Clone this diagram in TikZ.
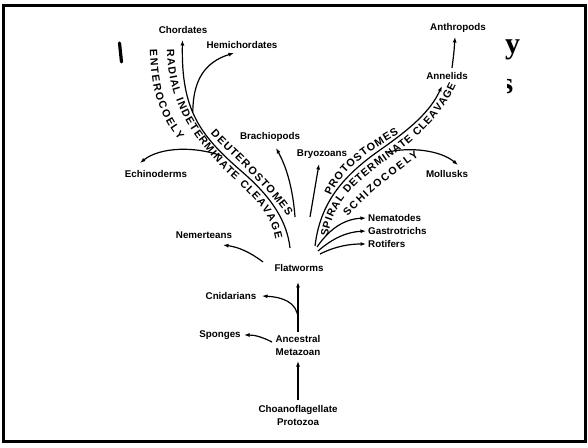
\documentclass[tikz,border=0pt]{standalone}
\usepackage{fontspec}
\setmainfont{Liberation Sans}
\newfontfamily\titleserif{Liberation Serif}
\usetikzlibrary{arrows.meta,decorations.text}
\newcommand\lblfont{\bfseries\fontsize{9.8}{13}\selectfont}
\newcommand\capfont{\bfseries\fontsize{10.6}{12}\selectfont}
\newcommand\capbold{\bfseries\fontsize{10.8}{12}\selectfont}
\begin{document}
\begin{tikzpicture}[x=1pt,y=1pt,
  lbl/.style={font=\lblfont, inner sep=1pt},
  br/.style={line width=1.2pt, -{Latex[length=5.5pt,width=4pt]}},
  alongtext/.style={decorate, decoration={text along path, text align={fit to path}, text format delimiters={|}{|}}}
]
\useasboundingbox (0,0) rectangle (588,447);
\draw[line width=3pt] (3.5,5.5) rectangle (585.5,441.5);

% fragments of the slide title behind the picture
\draw[line width=3.2pt, line cap=round] (119.5,404) -- (121.5,385);
\node[font={\titleserif\bfseries\fontsize{30}{36}\selectfont}, anchor=base west, inner sep=0pt] (ty) at (505,393) {y};
\begin{scope}
  \clip (507,340) rectangle (530,375);
  \node[font={\titleserif\bfseries\fontsize{30}{36}\selectfont}, anchor=base west, inner sep=0pt] (ts) at (501.5,353) {s};
\end{scope}

% labels
\node[lbl] (chord) at (183,417) {Chordates};
\node[lbl] (hemi) at (242,402) {Hemichordates};
\node[lbl] (echi) at (156,273) {Echinoderms};
\node[lbl] (brach) at (270,310) {Brachiopods};
\node[lbl] (bryo) at (322,293) {Bryozoans};
\node[lbl] (anth) at (458,419) {Anthropods};
\node[lbl] (anne) at (447,371) {Annelids};
\node[lbl] (moll) at (447,273) {Mollusks};
\node[lbl, anchor=west] (nema) at (367,229) {Nematodes};
\node[lbl, anchor=west] (gast) at (367,216) {Gastrotrichs};
\node[lbl, anchor=west] (roti) at (367,203) {Rotifers};
\node[lbl] (nemer) at (204,212) {Nemerteans};
\node[lbl] (flat) at (299,179) {Flatworms};
\node[lbl] (cnid) at (231,151) {Cnidarians};
\node[lbl] (spon) at (220,112) {Sponges};
\node[lbl, align=center] (anc) at (298,102) {Ancestral\\Metazoan};
\node[lbl, align=center] (choano) at (298,32) {Choanoflagellate\\Protozoa};

% connector end points
\coordinate (choanoT) at (298,47);
\coordinate (ancB) at (298,86);
\coordinate (ancT) at (298,115);
\coordinate (flatB) at (298,165);
\coordinate (cnidS) at (298,129);
\coordinate (cnidE) at (262,151);
\coordinate (sponS) at (272,105);
\coordinate (sponE) at (244,112);
\coordinate (nemS) at (263,185);
\coordinate (nemE) at (223,202);
\coordinate (deutS) at (290,199);
\coordinate (deutM) at (240,277);
\coordinate (chordE) at (182.5,407);
\coordinate (hemiS) at (192.8,335);
\coordinate (hemiE) at (234,394);
\coordinate (echiS) at (222,291);
\coordinate (echiE) at (140,284);
\coordinate (brachS) at (295,230);
\coordinate (brachE) at (276,299);
\coordinate (bryoS) at (310,230);
\coordinate (bryoE) at (319,283);
\coordinate (protS) at (315,201);
\coordinate (protM) at (380,297);
\coordinate (anneE) at (442,361);
\coordinate (anneS) at (452,379);
\coordinate (anthE) at (455,410);
\coordinate (mollS) at (388,295);
\coordinate (mollE) at (458,282);
\coordinate (nemaS) at (317,200);
\coordinate (nemaE) at (366,229);
\coordinate (gastS) at (318,196);
\coordinate (gastE) at (366,216);
\coordinate (rotiS) at (320,193);
\coordinate (rotiE) at (366,203);

% connectors
\draw[br] (choanoT) -- (ancB);
\draw[br] (ancT) -- (flatB);
\draw[br] (cnidS) .. controls (297,145) and (282,150) .. (cnidE);
\draw[br] (sponS) .. controls (262,110) and (255,112) .. (sponE);
\draw[br] (nemS) .. controls (250,195) and (238,200) .. (nemE);
\draw[br] (deutS) .. controls (287,225) and (273,249) .. (deutM) .. controls (200,312) and (181,337) .. (chordE);
\draw[br] (hemiS) .. controls (193,367) and (205,385) .. (hemiE);
\draw[br] (echiS) .. controls (195,301) and (160,300) .. (echiE);
\draw[br] (brachS) .. controls (293,257) and (287,279) .. (brachE);
\draw[br] (bryoS) -- (bryoE);
\draw[br] (protS) .. controls (320,242) and (340,269) .. (protM) .. controls (410,318) and (430,335) .. (anneE);
\draw[br] (anneS) .. controls (454,395) .. (anthE);
\draw[br] (mollS) .. controls (410,300) and (440,297) .. (mollE);
\draw[br] (nemaS) .. controls (330,219) and (345,228) .. (nemaE);
\draw[br] (gastS) .. controls (333,209) and (347,215) .. (gastE);
\draw[br] (rotiS) .. controls (336,201) and (350,203) .. (rotiE);

% texts along the main branches
\path[alongtext, decoration={text={|\capbold|DEUTEROSTOMES}}]
  (210.5,313.5) .. controls (235.5,286.5) and (264.5,263.5) .. (287.5,230.5);
\path[alongtext, decoration={text={|\capfont|RADIAL INDETERMINATE CLEAVAGE}}]
  (167,397) .. controls (168,347) and (189,311) .. (232.7,268.9) .. controls (257,247) and (271,231) .. (275.5,208);
\path[alongtext, decoration={text={|\capfont|ENTEROCOELY}}]
  (150,397) .. controls (151,357) and (159,332) .. (179,307);
\path[alongtext, decoration={text={|\capbold|PROTOSTOMES}}]
  (331,251) .. controls (340,273) and (360,291) .. (399,313);
\path[alongtext, decoration={text={|\capfont|SPIRAL DETERMINATE CLEAVAGE}}]
  (328,210) .. controls (332,238) and (348,260) .. (387,287) .. controls (417,308) and (442,332) .. (456,362);
\path[alongtext, decoration={text={|\capfont|SCHIZOCOELY}}]
  (348,230) .. controls (361,246) and (386,268) .. (419,291);
\end{tikzpicture}
\end{document}
